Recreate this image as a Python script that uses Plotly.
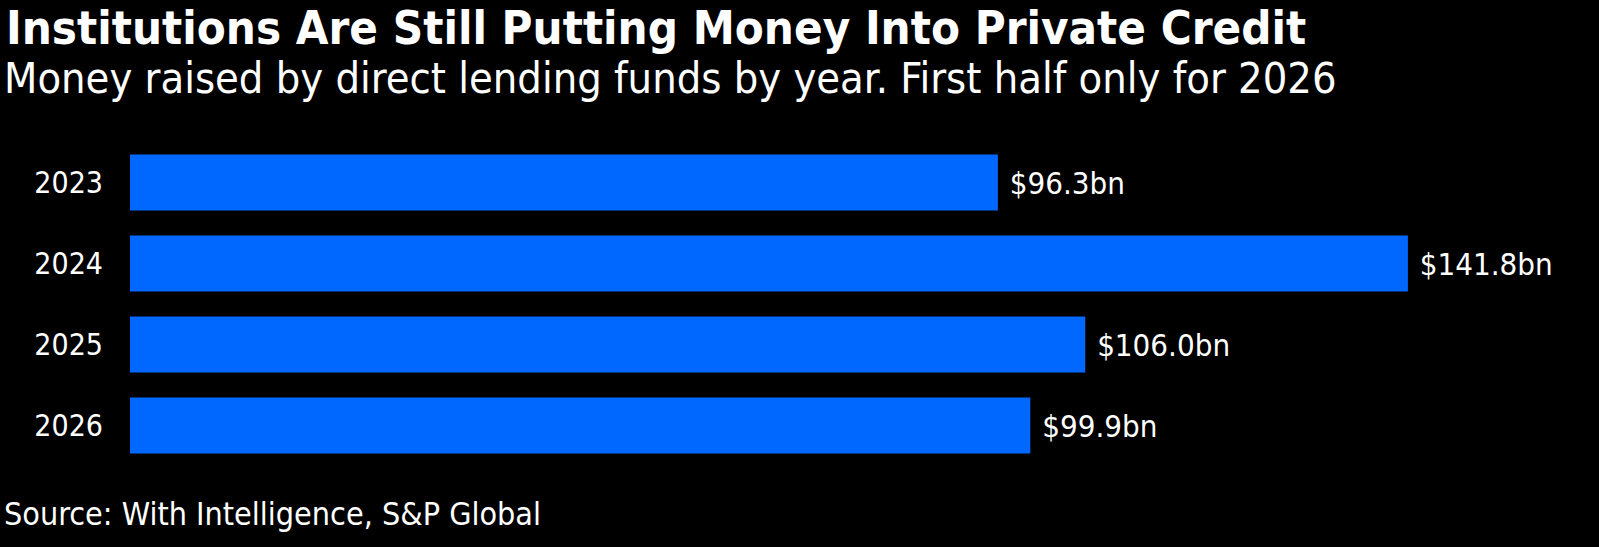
import plotly.graph_objects as go

years = ["2023", "2024", "2025", "2026"]
raised_bn = [96.3, 141.8, 106.0, 99.9]
value_labels = ["$96.3bn", "$141.8bn", "$106.0bn", "$99.9bn"]

title = "Institutions Are Still Putting Money Into Private Credit"
subtitle = "Money raised by direct lending funds by year. First half only for 2026"
source = "Source: With Intelligence, S&P Global"

FONT = "DejaVu Sans Condensed, DejaVu Sans, sans-serif"
W, H = 1599, 547
ML, MR, MT, MB = 130, 0, 142, 81
pw = W - ML - MR
ph = H - MT - MB


def px_x(x):
    # pixel column -> paper x
    return (x - ML) / pw


def px_y(y):
    # pixel row from top -> paper y
    return (H - MB - y) / ph


fig = go.Figure(go.Bar(
    x=raised_bn,
    y=years,
    orientation="h",
    marker=dict(color="#0068FF", line=dict(width=0)),
    text=[" " + t for t in value_labels],
    textposition="outside",
    textfont=dict(color="white", size=31, family=FONT),
    cliponaxis=False,
    width=0.69,
))

fig.update_layout(
    width=W, height=H,
    paper_bgcolor="black", plot_bgcolor="black",
    margin=dict(l=ML, r=MR, t=MT, b=MB),
    showlegend=False,
    font=dict(family=FONT, color="white"),
    xaxis=dict(range=[0, pw / 9.012], visible=False, fixedrange=True),
    yaxis=dict(autorange="reversed", showgrid=False, zeroline=False, showline=False,
               ticks="", ticklabelstandoff=26, fixedrange=True,
               tickfont=dict(size=30, color="white", family=FONT)),
    annotations=[
        dict(text="<b>" + title + "</b>", xref="paper", yref="paper",
             x=px_x(4), y=px_y(27), xanchor="left", yanchor="middle",
             showarrow=False, font=dict(size=47, color="white", family=FONT)),
        dict(text=subtitle, xref="paper", yref="paper",
             x=px_x(2), y=px_y(78), xanchor="left", yanchor="middle",
             showarrow=False, font=dict(size=43, color="white", family=FONT)),
        dict(text=source, xref="paper", yref="paper",
             x=px_x(2), y=px_y(514), xanchor="left", yanchor="middle",
             showarrow=False, font=dict(size=32, color="white", family=FONT)),
    ],
)

fig.write_html("out.html", config={"displayModeBar": False},
               post_script="document.body.style.margin='0';document.body.style.background='black';")
